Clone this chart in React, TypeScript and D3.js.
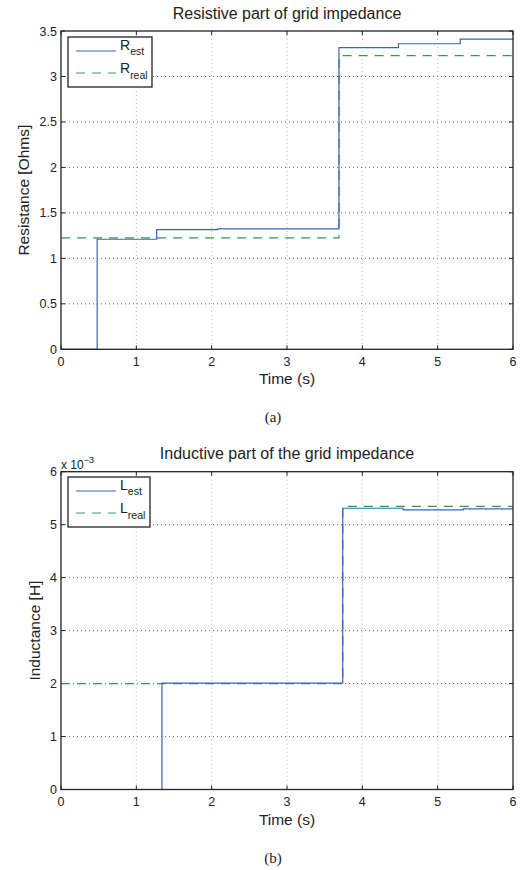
import React from "react";
import * as d3 from "d3";

// ---- Data ----
// Resistive part: step series [time, value]
const rEstSteps: [number, number][] = [
  [0, 0], [0.48, 1.21], [1.27, 1.315], [2.08, 1.325], [3.69, 3.317], [4.48, 3.36], [5.3, 3.41], [6, 3.41],
];
const rRealSteps: [number, number][] = [
  [0, 1.225], [3.69, 3.23], [6, 3.23],
];
// Inductive part (units of 1e-3 H)
const lEstSteps: [number, number][] = [
  [0, 0], [1.34, 2.01], [3.74, 5.31], [4.54, 5.28], [5.34, 5.3], [6, 5.3],
];
const lRealSteps: [number, number][] = [
  [0, 2.0], [3.74, 5.345], [6, 5.345],
];
const xTicks = [0, 1, 2, 3, 4, 5, 6];
const rTicks = [0, 0.5, 1, 1.5, 2, 2.5, 3, 3.5];
const lTicks = [0, 1, 2, 3, 4, 5, 6];

const BLUE = "#3a64b6";
const GREEN = "#2e9a4e";
const FONT = "'Liberation Sans', Arial, Helvetica, sans-serif";
const TXT = "#222";

type PanelProps = {
  top: number;
  bottom: number;
  yMax: number;
  yTicks: number[];
  est: [number, number][];
  real: [number, number][];
  title: string;
  titleY: number;
  ylabel: string;
  ylabelX: number;
  estSub: string;
  realSub: string;
  sym: string;
  legend: { x: number; y: number; w: number; h: number };
  exponent?: boolean;
  caption: string;
};

function Panel(p: PanelProps) {
  const x = d3.scaleLinear().domain([0, 6]).range([61, 513]);
  const y = d3.scaleLinear().domain([0, p.yMax]).range([p.bottom, p.top]);
  const line = d3
    .line<[number, number]>()
    .x((d) => x(d[0]))
    .y((d) => y(d[1]))
    .curve(d3.curveStepAfter);
  const tickLen = 4;
  const L = p.legend;
  return (
    <g>
      {/* title */}
      <text x={287} y={p.titleY} textAnchor="middle" fontSize={16} fontFamily={FONT} fill={TXT}>
        {p.title}
      </text>
      {/* grid */}
      {xTicks.slice(1, -1).map((t) => (
        <line key={"gx" + t} x1={x(t)} x2={x(t)} y1={p.top} y2={p.bottom} stroke="#aaa" strokeWidth={0.9} strokeDasharray="1,3" />
      ))}
      {p.yTicks.slice(1, -1).map((t) => (
        <line key={"gy" + t} x1={61} x2={513} y1={y(t)} y2={y(t)} stroke="#555" strokeWidth={0.9} strokeDasharray="1,3" />
      ))}
      {/* ticks */}
      {xTicks.map((t) => (
        <g key={"tx" + t}>
          <line x1={x(t)} x2={x(t)} y1={p.bottom} y2={p.bottom - tickLen} stroke={TXT} />
          <line x1={x(t)} x2={x(t)} y1={p.top} y2={p.top + tickLen} stroke={TXT} />
          <text x={x(t)} y={p.bottom + 16.5} textAnchor="middle" fontSize={12.5} fontFamily={FONT} fill={TXT}>
            {t}
          </text>
        </g>
      ))}
      {p.yTicks.map((t) => (
        <g key={"ty" + t}>
          <line x1={61} x2={61 + tickLen} y1={y(t)} y2={y(t)} stroke={TXT} />
          <line x1={513} x2={513 - tickLen} y1={y(t)} y2={y(t)} stroke={TXT} />
          <text x={57} y={y(t) + 4.5} textAnchor="end" fontSize={12.5} fontFamily={FONT} fill={TXT}>
            {t}
          </text>
        </g>
      ))}
      {p.exponent && (
        <text x={61} y={p.top - 3} fontSize={12} fontFamily={FONT} fill={TXT}>
          x 10
          <tspan dy={-6} fontSize={9}>−3</tspan>
        </text>
      )}
      {/* data */}
      <path d={line(p.real) || ""} fill="none" stroke={GREEN} strokeWidth={1.2} strokeDasharray="9,7" />
      <path d={line(p.est) || ""} fill="none" stroke={BLUE} strokeWidth={1.2} />
      {/* axes box */}
      <rect x={61} y={p.top} width={452} height={p.bottom - p.top} fill="none" stroke={TXT} strokeWidth={1.3} />
      {/* legend */}
      <rect x={L.x} y={L.y} width={L.w} height={L.h} fill="#fff" stroke={TXT} strokeWidth={1.3} />
      <line x1={L.x + 8} x2={L.x + 48} y1={L.y + 14} y2={L.y + 14} stroke={BLUE} strokeWidth={1.2} />
      <line x1={L.x + 8} x2={L.x + 48} y1={L.y + 36} y2={L.y + 36} stroke={GREEN} strokeWidth={1.2} strokeDasharray="9,7" />
      <text x={L.x + 52} y={L.y + 13} fontSize={14} fontFamily={FONT} fill={TXT}>
        {p.sym}
        <tspan dy={5} fontSize={10.5}>{p.estSub}</tspan>
      </text>
      <text x={L.x + 52} y={L.y + 36} fontSize={14} fontFamily={FONT} fill={TXT}>
        {p.sym}
        <tspan dy={6} fontSize={10.5}>{p.realSub}</tspan>
      </text>
      {/* labels */}
      <text x={287} y={p.bottom + 35} textAnchor="middle" fontSize={15.5} fontFamily={FONT} fill={TXT}>
        Time (s)
      </text>
      <text
        transform={`translate(${p.ylabelX},${(p.top + p.bottom) / 2}) rotate(-90)`}
        textAnchor="middle"
        fontSize={15.5}
        fontFamily={FONT}
        fill={TXT}
      >
        {p.ylabel}
      </text>
      <text x={273} y={p.bottom + 73} textAnchor="middle" fontSize={15} fontFamily="'Liberation Serif', 'Times New Roman', serif" fill={TXT}>
        {p.caption}
      </text>
    </g>
  );
}

export default function App() {
  return (
    <svg width={526} height={870} style={{ position: "absolute", left: 0, top: 0, background: "#fff" }}>
      <rect width={526} height={870} fill="#fff" />
      <Panel
        top={31}
        bottom={349.3}
        yMax={3.5}
        yTicks={rTicks}
        est={rEstSteps}
        real={rRealSteps}
        title="Resistive part of grid impedance"
        titleY={19}
        ylabel="Resistance [Ohms]"
        ylabelX={29}
        estSub="est"
        realSub="real"
        sym="R"
        legend={{ x: 68, y: 37, w: 84, h: 50 }}
        caption="(a)"
      />
      <Panel
        top={471.7}
        bottom={789.5}
        yMax={6}
        yTicks={lTicks}
        est={lEstSteps}
        real={lRealSteps}
        title="Inductive part of the grid impedance"
        titleY={459}
        ylabel="Inductance [H]"
        ylabelX={40}
        estSub="est"
        realSub="real"
        sym="L"
        legend={{ x: 68, y: 477, w: 82, h: 50 }}
        exponent
        caption="(b)"
      />
    </svg>
  );
}
